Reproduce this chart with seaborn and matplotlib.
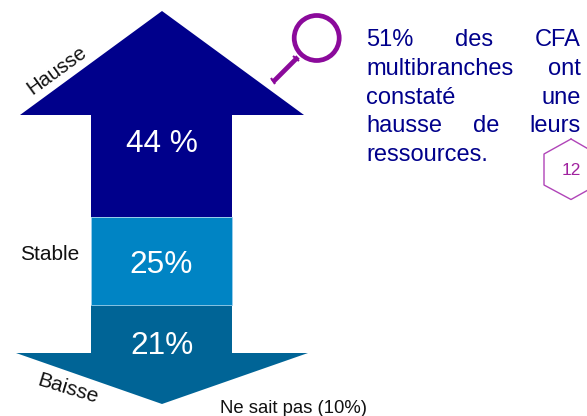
import matplotlib
matplotlib.use('Agg')
import matplotlib.pyplot as plt
import seaborn as sns
from matplotlib.patches import Circle

# Values shown on the arrow
categories = ['Hausse', 'Stable', 'Baisse']
value_labels = ['44 %', '25%', '21%']
unknown_label = 'Ne sait pas (10%)'

body_lines = [
    ['51%', 'des', 'CFA'],
    ['multibranches', 'ont'],
    ['constaté', 'une'],
    ['hausse', 'de', 'leurs'],
    ['ressources.'],
]
page_number = '12'

NAVY = '#00008B'
BLUE = '#0084C4'
TEAL = '#006496'
PURPLE = '#8B0A9B'

sns.set_theme(style='white')
plt.rcParams['font.family'] = ['Liberation Sans', 'DejaVu Sans']

fig = plt.figure(figsize=(5.87, 4.16), dpi=100)
ax = fig.add_axes([0, 0, 1, 1])

# The figure is a pictogram: the arrow is not to scale with the percentages
shaft_tops = [114, 217, 305]
shaft_heights = [103, 88, 49]
shaft_colors = [NAVY, BLUE, TEAL]
for top, height, color in zip(shaft_tops, shaft_heights, shaft_colors):
    sns.barplot(x=[161.5], y=[height], bottom=top, native_scale=True, width=141.5,
                color=color, saturation=1, linewidth=0, ax=ax)
stable_bar = ax.patches[1]
stable_bar.set_edgecolor('#9CCFEC')
stable_bar.set_linewidth(0.6)
stable_bar.set_zorder(3)

# arrow heads
ax.fill([20, 162, 304], [115, 11, 115], color=NAVY, lw=0)
ax.fill([16, 162, 308], [353, 404, 353], color=TEAL, lw=0)

ax.set_xlim(0, 587)
ax.set_ylim(416, 0)
ax.axis('off')

# percentages on the arrow
for label, y in zip(value_labels, [144, 265, 346]):
    ax.text(161.5, y, label, color='white', fontsize=22.8, ha='center', va='center', zorder=4)

ax.text(57, 70, categories[0], fontsize=14.6, rotation=36, rotation_mode='anchor',
        ha='center', va='center', color='#111111')
ax.text(50, 255, categories[1], fontsize=15, ha='center', va='center', color='#111111')
ax.text(68, 389, categories[2], fontsize=15, rotation=-17, rotation_mode='anchor',
        ha='center', va='center', color='#111111')
ax.text(219.5, 413, unknown_label, fontsize=13.3, ha='left', va='baseline', color='#111111')

# magnifier
ax.add_patch(Circle((316.7, 38), 22.5, fill=False, ec=PURPLE, lw=3.4))
ax.plot([298, 273], [57, 82], color=PURPLE, lw=3.4, solid_capstyle='butt')
ax.plot([271, 275], [78, 84], color=PURPLE, lw=1.5, solid_capstyle='butt')
ax.plot([293, 299], [56, 61], color=PURPLE, lw=1.5, solid_capstyle='butt')

# justified text block
left, right = 366, 581
baselines = [46, 75, 104, 132, 161]
renderer = fig.canvas.get_renderer()
for words, base in zip(body_lines, baselines):
    items = [ax.text(left, base, w, fontsize=17, color=NAVY, ha='left', va='baseline') for w in words]
    if len(items) == 1:
        continue
    widths = [t.get_window_extent(renderer).width for t in items]
    gap = (right - left - sum(widths)) / (len(items) - 1)
    x = left
    for t, width in zip(items, widths):
        t.set_x(x)
        x += width + gap

# page number hexagon, cut by the right edge
ax.plot([571, 597, 597, 571, 544, 544, 571], [139, 154, 185, 199.5, 185, 154, 139],
        color='#B044B8', lw=1, clip_on=True)
ax.text(571, 170.5, page_number, fontsize=12.5, color='#A0229F', ha='center', va='center')

fig.savefig('out.png', dpi=100)
